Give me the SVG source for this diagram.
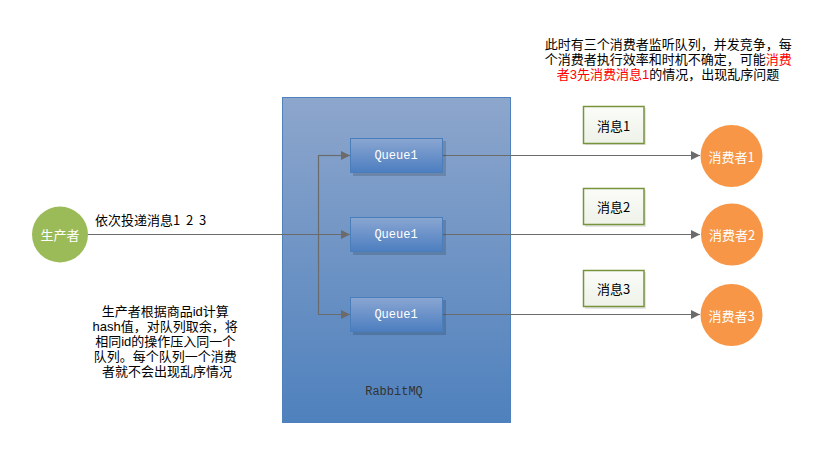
<svg xmlns="http://www.w3.org/2000/svg" width="827" height="465" viewBox="0 0 827 465">
<style>
.t{font-family:"Noto Sans CJK SC","Liberation Sans",sans-serif;font-size:13px;fill:#000}
.p{font-family:"Liberation Sans","Noto Sans CJK SC",sans-serif;font-size:13px;fill:#000}
.w{font-family:"Noto Sans CJK SC","Liberation Sans",sans-serif;font-size:13px;fill:#fff;text-anchor:middle;dominant-baseline:central}
.m{font-family:"Liberation Mono",monospace;font-size:12px;text-anchor:middle;dominant-baseline:central}
.c{fill:none;stroke:#6b6b6b;stroke-width:1.2}
.q{fill:url(#gq);stroke:#4a7ebb;stroke-width:1}
.qs{fill:#000;opacity:0.15}
.b{fill:url(#gb);stroke:#77933c;stroke-width:1.5}
.r{fill:#f00}
</style>
<defs>
<linearGradient id="gm" x1="0" y1="0" x2="0" y2="1"><stop offset="0" stop-color="#8da6cc"/><stop offset="1" stop-color="#4f81bd"/></linearGradient>
<linearGradient id="gq" x1="0" y1="0" x2="0" y2="1"><stop offset="0" stop-color="#8aa6d2"/><stop offset="1" stop-color="#4c7ec0"/></linearGradient>
<linearGradient id="gb" x1="0" y1="0" x2="0" y2="1"><stop offset="0" stop-color="#fbfcf9"/><stop offset="1" stop-color="#eef2e8"/></linearGradient>
<marker id="ar" viewBox="0 0 10 10" refX="10" refY="5" markerWidth="9" markerHeight="9" markerUnits="userSpaceOnUse" orient="auto"><path d="M0,0L10,5L0,10z" fill="#6b6b6b"/></marker>
</defs>
<rect width="827" height="465" fill="#fff"/>
<g id="rabbitmq">
<rect x="282.5" y="97.5" width="228" height="325" fill="url(#gm)" stroke="#4f81bd" stroke-width="1"/>
<text x="394" y="392" class="m" fill="#333">RabbitMQ</text>
</g>
<g id="connectors">
<path class="c" d="M88,234.5H350" marker-end="url(#ar)"/>
<path class="c" d="M350,155.5H318.5V314.5H350" marker-end="url(#ar)"/>
<path class="c" d="M318.5,155.5H350" marker-end="url(#ar)"/>
<path class="c" d="M443,155.5H700" marker-end="url(#ar)"/>
<path class="c" d="M443,234.5H700" marker-end="url(#ar)"/>
<path class="c" d="M443,314.5H700" marker-end="url(#ar)"/>
</g>
<g id="queue1"><rect class="qs" x="353" y="141" width="93" height="35"/><rect class="q" x="350.5" y="138.5" width="92" height="34"/><text x="396" y="155.5" class="m" fill="#fff">Queue1</text></g>
<g id="queue2"><rect class="qs" x="353" y="220" width="93" height="35"/><rect class="q" x="350.5" y="217.5" width="92" height="34"/><text x="396" y="234.5" class="m" fill="#fff">Queue1</text></g>
<g id="queue3"><rect class="qs" x="353" y="300" width="93" height="35"/><rect class="q" x="350.5" y="297.5" width="92" height="34"/><text x="396" y="314.5" class="m" fill="#fff">Queue1</text></g>
<g id="producer"><circle cx="60" cy="234.5" r="28" fill="#9bbb59"/><text x="60" y="234.5" class="w">生产者</text></g>
<g id="consumer1"><circle cx="731.5" cy="156" r="31" fill="#f79646"/><text x="731.5" y="156" class="w">消费者1</text></g>
<g id="consumer2"><circle cx="732" cy="234.5" r="31" fill="#f79646"/><text x="732" y="234.5" class="w">消费者2</text></g>
<g id="consumer3"><circle cx="731.5" cy="315" r="31" fill="#f79646"/><text x="731.5" y="315" class="w">消费者3</text></g>
<g id="msg1"><rect x="585" y="108" width="61" height="37" fill="#000" opacity="0.1"/><rect class="b" x="583.5" y="106.5" width="60.5" height="37"/><text x="613.5" y="125" class="t" text-anchor="middle" dominant-baseline="central">消息1</text></g>
<g id="msg2"><rect x="585" y="190" width="61" height="37" fill="#000" opacity="0.1"/><rect class="b" x="583.5" y="188.5" width="60.5" height="36"/><text x="613.5" y="206.5" class="t" text-anchor="middle" dominant-baseline="central">消息2</text></g>
<g id="msg3"><rect x="585" y="272" width="61" height="37" fill="#000" opacity="0.1"/><rect class="b" x="583.5" y="270.5" width="60.5" height="36"/><text x="613.5" y="288.5" class="t" text-anchor="middle" dominant-baseline="central">消息3</text></g>
<g id="labels">
<text x="95" y="225" class="t">依次投递消息1<tspan x="186">2</tspan><tspan x="199">3</tspan></text>
<text class="p" text-anchor="middle">
<tspan x="167" y="316">生产者根据商品id计算</tspan>
<tspan x="167" y="331">hash值，对队列取余，将</tspan>
<tspan x="167" y="346">相同id的操作压入同一个</tspan>
<tspan x="167" y="361">队列。每个队列一个消费</tspan>
<tspan x="167" y="376">者就不会出现乱序情况</tspan>
</text>
<text class="p" text-anchor="middle">
<tspan x="670" y="49">此时有三个消费者监听队列，并发竞争，每</tspan>
<tspan x="670" y="64">个消费者执行效率和时机不确定，可能<tspan class="r">消费</tspan></tspan>
<tspan x="668" y="79"><tspan class="r">者3先消费消息1</tspan>的情况，出现乱序问题</tspan>
</text>
</g>
</svg>
